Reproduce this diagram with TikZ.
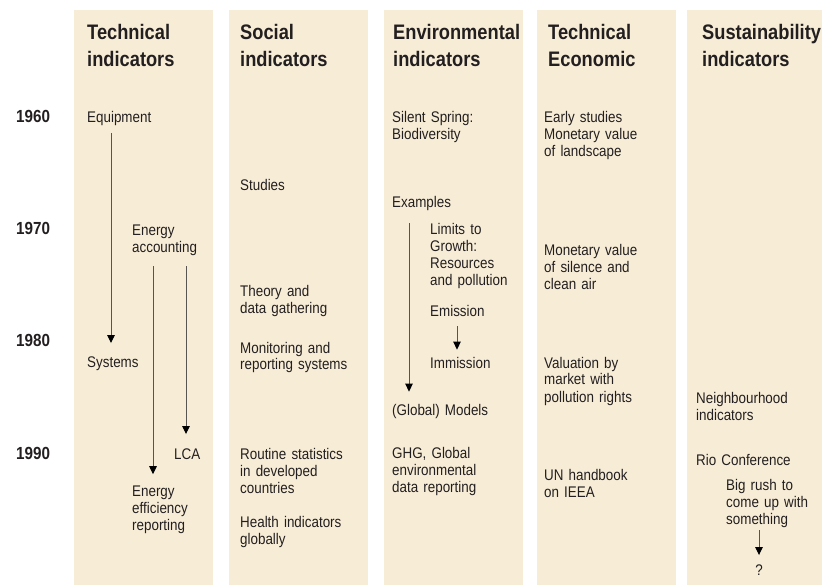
\documentclass[tikz,border=0pt]{standalone}
\usepackage{fontspec}
\setmainfont{Liberation Sans}[FakeStretch=0.87]
\usetikzlibrary{arrows.meta}
\definecolor{panel}{RGB}{247,236,214}
\definecolor{ink}{RGB}{35,31,32}
\definecolor{stem}{RGB}{88,84,82}

\begin{document}
\begin{tikzpicture}[x=1pt,y=-1pt,
		head/.style={anchor=base west,inner sep=0,text width=135pt,align=left,text=ink,
			font=\fontsize{21}{26.5}\selectfont\bfseries},
		year/.style={anchor=base west,inner sep=0,text=ink,font=\fontsize{17.5}{20}\selectfont\bfseries},
		txt/.style={anchor=base west,inner sep=0,text width=130pt,align=left,text=ink,
			font=\fontsize{15.4}{17}\selectfont},
		arr/.style={draw=stem,line width=1pt,-{Triangle[length=8pt,width=7.5pt,color=black]}}]
		\useasboundingbox (0,0) rectangle (822,585);
		\foreach \cx in {74,229,384,537,687}
			\fill[panel] (\cx,10) rectangle ({min(\cx+139,822)},585);

		\node (h1) [head] at (87,40) {Technical\\indicators};
		\node (h2) [head] at (240,40) {Social\\indicators};
		\node (h3) [head] at (393,40) {Environmental\\indicators};
		\node (h4) [head] at (548,40) {Technical\\Economic};
		\node (h5) [head] at (702,40) {Sustainability\\indicators};

		\foreach \yr [count=\i] in {1960,1970,1980,1990}
			\node (y\yr) [year] at (16,{123+112*(\i-1)}) {\yr};

		% technical
		\node (eqp) [txt] at (87,123) {Equipment};
		\node (sys) [txt] at (87,367) {Systems};
		\node (ena) [txt] at (132,236) {Energy\\accounting};
		\node (lca) [txt] at (174,459) {LCA};
		\node (eef) [txt] at (132,496) {Energy\\efficiency\\reporting};
		\draw[arr] ([xshift=24pt,yshift=-7pt]eqp.south west) -- ([xshift=24pt,yshift=13pt]sys.north west);
		\draw[arr] ([xshift=21pt,yshift=-10pt]ena.south west) -- ([xshift=21pt,yshift=11pt]eef.north west);
		\draw[arr] ([xshift=54pt,yshift=-10pt]ena.south west) -- ([xshift=12pt,yshift=14pt]lca.north west);

		% social
		\node (stu) [txt] at (240,191) {Studies};
		\node (the) [txt] at (240,297) {Theory and\\data gathering};
		\node (mon) [txt] at (240,353) {Monitoring and\\reporting systems};
		\node (rou) [txt] at (240,459) {Routine statistics\\in developed\\countries};
		\node (hea) [txt] at (240,527) {Health indicators\\globally};

		% environmental
		\node (sil) [txt] at (392,123) {Silent Spring:\\Biodiversity};
		\node (exa) [txt] at (392,208) {Examples};
		\node (lim) [txt] at (430,235) {Limits to\\Growth:\\Resources\\and pollution};
		\node (emi) [txt] at (430,317) {Emission};
		\node (imm) [txt] at (430,368) {Immission};
		\node (mod) [txt] at (392,415) {(Global) Models};
		\node (ghg) [txt] at (392,458) {GHG, Global\\environmental\\data reporting};
		\draw[arr] ([xshift=17pt,yshift=-12pt]exa.south west) -- ([xshift=17pt,yshift=12pt]mod.north west);
		\draw[arr] ([xshift=27pt,yshift=-9pt]emi.south west) -- ([xshift=27pt,yshift=7pt]imm.north west);

		% technical economic
		\node (ear) [txt] at (544,123) {Early studies\\Monetary value\\of landscape};
		\node (sic) [txt] at (544,256) {Monetary value\\of silence and\\clean air};
		\node (val) [txt] at (544,368) {Valuation by\\market with\\pollution rights};
		\node (unh) [txt] at (544,480) {UN handbook\\on IEEA};

		% sustainability
		\node (nei) [txt] at (696,403) {Neighbourhood\\indicators};
		\node (rio) [txt] at (696,465) {Rio Conference};
		\node (big) [txt] at (726,490) {Big rush to\\come up with\\something};
		\node (qm) [txt,text width=,anchor=base] at (759,575) {?};
		\draw[arr] ([xshift=33pt,yshift=-3pt]big.south west) -- ([yshift=9pt]qm.north);
\end{tikzpicture}
\end{document}
